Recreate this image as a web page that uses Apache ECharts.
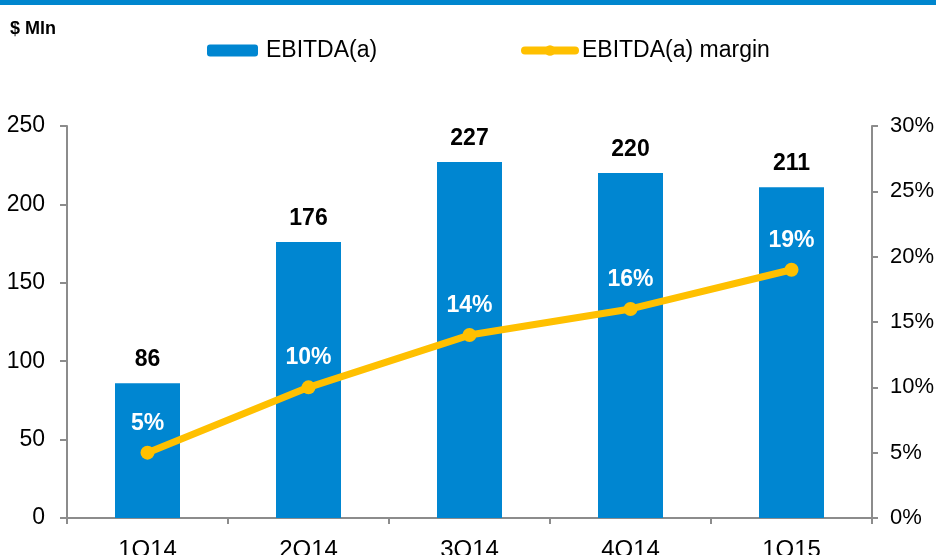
<!DOCTYPE html>
<html>
<head>
<meta charset="utf-8">
<script src="https://cdn.jsdelivr.net/npm/echarts@6/dist/echarts.min.js"></script>
<style>html,body{margin:0;padding:0;background:#fff}#c{width:936px;height:555px}</style>
</head>
<body>
<div id="c"></div>
<script>
const categories = ['1Q14', '2Q14', '3Q14', '4Q14', '1Q15'];
const ebitda = [86, 176, 227, 220, 211];
const margin = [5, 10, 14, 16, 19];
const unitLabel = '$ Mln';

const FONT = 'Arial, "Liberation Sans", sans-serif';
const BLUE = '#0086D1';
const YELLOW = '#FFC000';
const AXIS = '#8C8C8C';

const chart = echarts.init(document.getElementById('c'));
chart.setOption({
  animation: false,
  textStyle: { fontFamily: FONT },
  graphic: [
    { type: 'rect', left: 0, top: 0, shape: { width: 936, height: 5 }, style: { fill: '#0086CE' } },
    { type: 'text', left: 10, top: 20, style: { text: unitLabel, font: 'bold 18px ' + FONT, fill: '#000' } }
  ],
  legend: [
    { data: ['EBITDA(a)'], left: 207, top: 39, padding: 0, itemWidth: 51, itemHeight: 12, itemGap: 4,
      textStyle: { fontSize: 23, color: '#000', padding: [0, 0, 0, 3] } },
    { data: ['EBITDA(a) margin'], left: 521, top: 39, padding: 0, itemWidth: 50, itemHeight: 13, itemGap: 4,
      lineStyle: { width: 8, cap: 'round' },
      textStyle: { fontSize: 23, color: '#000', padding: [0, 0, 0, 2] } }
  ],
  grid: { left: 67, right: 64, top: 126, bottom: 37, containLabel: false, outerBoundsMode: 'none' },
  xAxis: {
    type: 'category',
    data: categories,
    axisLine: { lineStyle: { color: AXIS, width: 2 } },
    axisTick: { show: true, length: 6, inside: false, lineStyle: { color: AXIS, width: 2 } },
    axisLabel: { color: '#000', fontSize: 24, margin: 20 }
  },
  yAxis: [
    {
      type: 'value', min: 0, max: 250, interval: 50,
      axisLine: { show: true, lineStyle: { color: AXIS, width: 2 } },
      axisTick: { show: true, length: 7, lineStyle: { color: AXIS, width: 2 } },
      axisLabel: { color: '#000', fontSize: 23, margin: 22 },
      splitLine: { show: false }
    },
    {
      type: 'value', min: 0, max: 30, interval: 5, position: 'right',
      axisLine: { show: true, lineStyle: { color: AXIS, width: 2 } },
      axisTick: { show: true, length: 6, lineStyle: { color: AXIS, width: 2 } },
      axisLabel: { color: '#000', fontSize: 22, margin: 18, formatter: '{value}%' },
      splitLine: { show: false }
    }
  ],
  series: [
    {
      name: 'EBITDA(a)', type: 'bar', data: ebitda, yAxisIndex: 0,
      barWidth: 65,
      itemStyle: { color: BLUE },
      label: { show: true, position: 'top', distance: 12, color: '#000', fontWeight: 'bold', fontSize: 23 }
    },
    {
      name: 'EBITDA(a) margin', type: 'line', data: margin, yAxisIndex: 1,
      symbol: 'circle', symbolSize: 14,
      lineStyle: { color: YELLOW, width: 7 },
      itemStyle: { color: YELLOW },
      label: { show: true, position: 'top', distance: 11, color: '#fff', fontWeight: 'bold', fontSize: 23, formatter: '{c}%' }
    }
  ]
});
</script>
</body>
</html>
